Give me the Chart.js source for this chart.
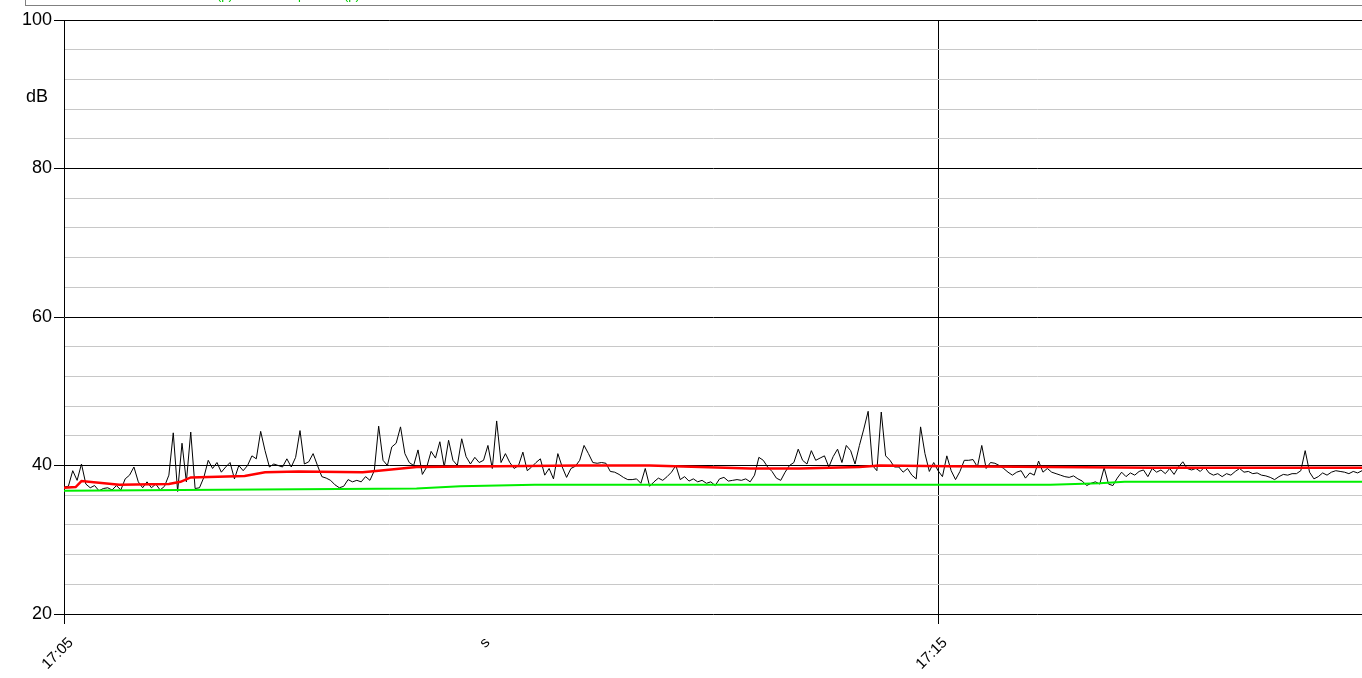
<!DOCTYPE html>
<html><head><meta charset="utf-8">
<script src="https://cdn.jsdelivr.net/npm/chart.js@4/dist/chart.umd.min.js"></script>
<style>html,body{margin:0;padding:0;background:#fff;overflow:hidden}#wrap{position:relative;width:1362px;height:678px}</style>
</head><body><div id="wrap"><canvas id="c" width="1362" height="678"></canvas></div>
<script>
// Sound level (dB), one sample every 3 s starting 17:05:00
const levelStepSeconds = 3;
const levelValues = [
37.1,37.2,39.3,38.0,40.2,37.5,37.0,37.3,36.6,36.9,37.0,36.7,37.3,36.7,38.2,38.7,39.8,37.8,37.0,37.8,37.0,37.5,36.7,37.2,38.7,44.4,36.5,
43.0,37.8,44.5,36.9,37.0,38.4,40.7,39.6,40.4,39.1,39.8,40.4,38.2,40.0,39.3,40.0,41.3,40.9,44.6,42.0,39.8,40.2,40.0,39.8,40.9,39.8,41.1,
44.7,40.2,40.5,41.6,40.0,38.5,38.3,38.0,37.4,37.0,37.2,38.1,37.8,38.0,37.8,38.5,38.0,39.3,45.3,40.7,40.0,42.5,43.0,45.2,41.6,40.4,40.0,
42.1,38.8,39.8,41.9,41.0,43.2,39.8,43.4,40.7,40.0,43.6,41.2,40.2,41.1,40.4,40.7,42.7,39.6,46.0,40.4,41.6,40.4,39.6,40.0,41.8,39.3,39.8,
40.4,40.9,38.7,39.6,38.2,41.6,39.8,38.4,39.6,39.9,40.7,42.7,41.6,40.4,40.3,40.4,40.3,39.2,39.1,38.8,38.4,38.1,38.1,38.2,37.6,39.6,37.2,
37.8,38.3,38.0,38.5,39.1,40.0,38.1,38.5,37.9,38.2,37.8,38.0,37.6,37.8,37.3,38.2,38.4,37.9,38.0,38.1,38.0,38.2,37.8,38.7,41.1,40.7,39.8,
39.2,38.3,38.0,39.1,40.0,40.4,42.2,40.7,40.2,42.0,40.7,41.0,41.3,39.8,41.2,42.2,40.4,42.7,42.0,40.2,42.7,44.9,47.3,40.0,39.3,47.2,41.3,
40.7,39.8,39.8,39.1,39.6,38.7,38.2,45.2,41.6,39.2,40.4,39.3,38.5,41.3,39.3,38.1,39.2,40.7,40.7,40.8,39.8,42.7,39.6,40.4,40.3,40.0,39.6,
39.1,38.7,39.1,39.3,38.3,39.0,38.7,40.6,39.1,39.6,39.1,38.9,38.7,38.5,38.4,38.6,38.2,37.9,37.3,37.6,37.8,37.5,39.7,37.5,37.3,38.3,39.1,
38.5,39.0,38.7,39.2,39.4,38.5,39.6,39.1,39.4,38.9,39.6,38.8,39.8,40.5,39.6,39.4,39.6,39.2,39.8,39.0,38.7,38.9,38.5,38.9,38.7,39.2,39.6,
39.1,39.2,38.9,39.0,38.7,38.6,38.4,38.1,38.5,38.8,38.7,38.9,38.9,39.3,42.0,39.1,38.2,38.5,39.0,38.7,39.1,39.3,39.2,39.1,38.9,39.2,39.0,39.3
];
// Running Leq (red), seconds since 17:05:00
const leqTimes  = [0,8,12,38,72,80,87,124,138,161,205,216,242,299,354,402,471,505,546,560,608,677,746,814,891];
const leqValues = [37.0,37.1,37.9,37.4,37.5,37.8,38.4,38.6,39.1,39.2,39.1,39.3,39.8,39.9,40.0,40.0,39.6,39.6,39.8,40.0,39.9,39.8,39.7,39.7,39.7];
// Running minimum / L90 (green)
const l90Times  = [0,80,161,242,272,323,677,711,728,891];
const l90Values = [36.6,36.7,36.8,36.9,37.2,37.4,37.4,37.6,37.8,37.8];
// Axis
const xMaxSeconds = 891;
const xTickValues = [0, 286, 600];
const xTickLabels = ['17:05', 's', '17:15'];
const yMin = 20, yMax = 100, yStep = 4, yMajor = 20;
const yUnitLabel = 'dB';

const levelData = levelValues.map((v,i)=>({x:i*levelStepSeconds, y:v}));
const leqData = leqTimes.map((t,i)=>({x:t, y:leqValues[i]}));
const l90Data = l90Times.map((t,i)=>({x:t, y:l90Values[i]}));
const FONT = 'Liberation Sans, Arial, sans-serif';

const decor = {
  id:'decor',
  beforeDraw(chart){
    const c = chart.ctx;
    c.save();
    c.strokeStyle = '#808080'; c.lineWidth = 1;
    c.strokeRect(25.5, -20.5, 1400, 26);
    c.fillStyle = '#00cc00';
    c.font = '13px ' + FONT;
    c.textBaseline = 'alphabetic';
    c.fillText('(p)', 217, -1);
    c.fillText('p', 298, -1);
    c.fillText('(p)', 344, -1);
    c.restore();
  },
  afterDraw(chart){
    const c = chart.ctx, y = chart.scales.y;
    c.save();
    c.fillStyle = '#000';
    c.font = '18px ' + FONT;
    c.textAlign = 'right'; c.textBaseline = 'middle';
    c.fillText(yUnitLabel, 48, y.getPixelForValue(89.6));
    c.restore();
  }
};

new Chart(document.getElementById('c'), {
  type:'line',
  data:{datasets:[
    {data:leqData, borderColor:'#ff0000', borderWidth:2.5, pointRadius:0, tension:0, fill:false},
    {data:l90Data, borderColor:'#00ee00', borderWidth:2, pointRadius:0, tension:0, fill:false},
    {data:levelData, borderColor:'#000000', borderWidth:1, pointRadius:0, tension:0, fill:false}
  ]},
  options:{
    responsive:false, animation:false, devicePixelRatio:1,
    layout:{padding:{top:20,right:0,left:0,bottom:0}},
    plugins:{legend:{display:false}, tooltip:{enabled:false}, title:{display:false}},
    scales:{
      x:{
        type:'linear', min:0, max:xMaxSeconds,
        afterBuildTicks:(s)=>{ s.ticks = xTickValues.map(v=>({value:v})); },
        afterFit:(s)=>{ s.height = 64; },
        border:{display:false},
        grid:{
          color:(ctx)=> (ctx.tick && ctx.tick.value===600) ? '#000' : 'rgba(0,0,0,0)',
          tickColor:(ctx)=> (ctx.tick && (ctx.tick.value===600 || ctx.tick.value===0)) ? '#000' : 'rgba(0,0,0,0)',
          tickLength:10, lineWidth:1
        },
        ticks:{
          autoSkip:false, maxRotation:45, minRotation:45, color:'#000', padding:10, labelOffset:7,
          font:{family:FONT, size:15},
          callback:(v)=>{ const k = xTickValues.indexOf(v); return k>=0 ? xTickLabels[k] : ''; }
        }
      },
      y:{
        type:'linear', min:yMin, max:yMax,
        afterFit:(s)=>{ s.width = 64; },
        border:{display:true, color:'#000', width:1},
        grid:{
          color:(ctx)=> (ctx.tick && ctx.tick.value % yMajor === 0) ? '#000' : '#c8c8c8',
          tickColor:(ctx)=> (ctx.tick && ctx.tick.value % yMajor === 0) ? '#000' : 'rgba(0,0,0,0)',
          tickLength:10, lineWidth:1
        },
        ticks:{
          stepSize:yStep, autoSkip:false, color:'#000', padding:2,
          font:{family:FONT, size:18},
          callback:(v)=> (v % yMajor === 0) ? String(v) : ''
        }
      }
    }
  },
  plugins:[decor]
});
</script>
</body></html>
